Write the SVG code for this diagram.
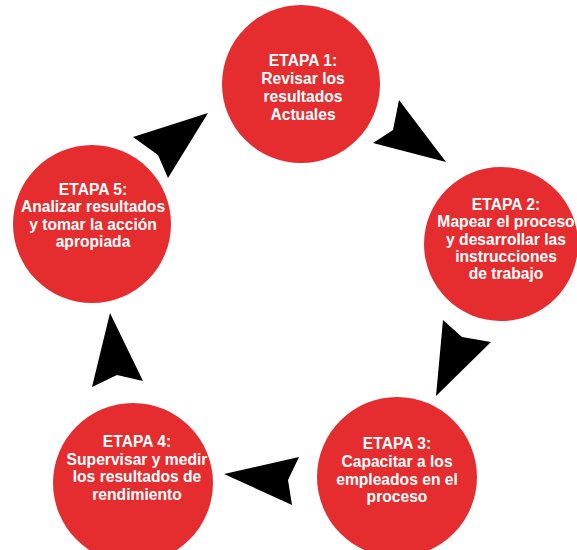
<svg xmlns="http://www.w3.org/2000/svg" width="577" height="550" viewBox="0 0 577 550">
<style>
.node{fill:#e52d2f}
.lbl{font-family:"Liberation Sans",Arial,sans-serif;font-weight:bold;font-size:17px;fill:#ffffff;text-anchor:middle}
.arr{fill:#000000}
</style>
<rect width="577" height="550" fill="#ffffff"/>
<g id="connectors">
<polygon class="arr" points="446,162 373,143 393,130 399,100"/>
<polygon class="arr" points="436,396 443,320 462,337 491,342"/>
<polygon class="arr" points="224,474 299,457 288,480 292,505"/>
<polygon class="arr" points="110,313 143,381 117,375 92,387"/>
<polygon class="arr" points="208,113 168,178 158,155 133,137"/>
</g>
<g id="etapa1">
<circle class="node" cx="301" cy="84" r="79"/>
<g transform="translate(303 0) scale(0.92 1)">
<text class="lbl" x="0" y="66">ETAPA 1:</text>
<text class="lbl" x="0" y="84">Revisar los</text>
<text class="lbl" x="0" y="102">resultados</text>
<text class="lbl" x="0" y="120">Actuales</text>
</g>
</g>
<g id="etapa2">
<circle class="node" cx="501" cy="244" r="77"/>
<g transform="translate(506 0) scale(0.92 1)">
<text class="lbl" x="0" y="210">ETAPA 2:</text>
<text class="lbl" x="0" y="227">Mapear el proceso</text>
<text class="lbl" x="0" y="245">y desarrollar las</text>
<text class="lbl" x="0" y="262">instrucciones</text>
<text class="lbl" x="0" y="279">de trabajo</text>
</g>
</g>
<g id="etapa3">
<circle class="node" cx="397" cy="477" r="80"/>
<g transform="translate(397 0) scale(0.92 1)">
<text class="lbl" x="0" y="449">ETAPA 3:</text>
<text class="lbl" x="0" y="467">Capacitar a los</text>
<text class="lbl" x="0" y="485">empleados en el</text>
<text class="lbl" x="0" y="502">proceso</text>
</g>
</g>
<g id="etapa4">
<circle class="node" cx="133" cy="483" r="80"/>
<g transform="translate(137 0) scale(0.92 1)">
<text class="lbl" x="0" y="447">ETAPA 4:</text>
<text class="lbl" x="0" y="465">Supervisar y medir</text>
<text class="lbl" x="0" y="482">los resultados de</text>
<text class="lbl" x="0" y="500">rendimiento</text>
</g>
</g>
<g id="etapa5">
<circle class="node" cx="92" cy="224" r="79"/>
<g transform="translate(93 0) scale(0.92 1)">
<text class="lbl" x="0" y="195">ETAPA 5:</text>
<text class="lbl" x="0" y="212">Analizar resultados</text>
<text class="lbl" x="0" y="230">y tomar la acción</text>
<text class="lbl" x="0" y="247">apropiada</text>
</g>
</g>
</svg>
